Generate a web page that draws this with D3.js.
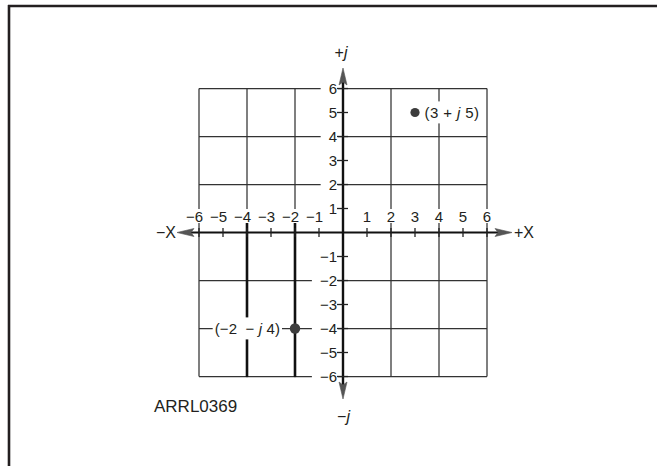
<!DOCTYPE html>
<html><head><meta charset="utf-8">
<script src="https://cdn.jsdelivr.net/npm/d3@7"></script>
<style>
body{margin:0;background:#fff}
text{font-family:"Liberation Sans",Arial,Helvetica,sans-serif;font-size:15px;fill:#231f20}
</style>
</head><body>
<svg id="c" width="657" height="466"></svg>
<script>
// ---- data ----
const realTicks = [-6,-5,-4,-3,-2,-1,1,2,3,4,5,6];
const imagTicks = [-6,-5,-4,-3,-2,-1,1,2,3,4,5,6];
const gridValues = [-6,-4,-2,2,4,6];
const boldReal = [-4,-2];
const pointRe = [3,-2];
const pointIm = [5,-4];
const pointPre = ["(3 + ", "(−2  − "];
const pointPost = [" 5)", " 4)"];
const realAxisLabels = ["−X","+X"];
const imagAxisLabels = ["+","−"];
const figureId = "ARRL0369";

// ---- setup ----
const svg = d3.select("#c");
svg.append("rect").attr("width",657).attr("height",466).attr("fill","#fff");
const x = d3.scaleLinear().domain([-6,6]).range([199,487]);
const y = d3.scaleLinear().domain([-6,6]).range([376.5,88.5]);
const fmt = d3.format("d");
const ink = "#231f20";

// frame (top and left edges)
svg.append("line").attr("x1",8).attr("x2",657).attr("y1",6).attr("y2",6).attr("stroke",ink).attr("stroke-width",2.6);
svg.append("line").attr("x1",9).attr("x2",9).attr("y1",5).attr("y2",466).attr("stroke",ink).attr("stroke-width",2.6);

const gGrid = svg.append("g");
const gBg = svg.append("g");
const gText = svg.append("g");
const gAxes = svg.append("g");

// grid
gGrid.selectAll("line.h").data(gridValues).join("line")
  .attr("x1",x(-6)).attr("x2",x(6)).attr("y1",d=>y(d)).attr("y2",d=>y(d))
  .attr("stroke","#333").attr("stroke-width",1.25);
gGrid.selectAll("line.v").data(gridValues).join("line")
  .attr("x1",d=>x(d)).attr("x2",d=>x(d))
  .attr("y1",y(6)).attr("y2",d=>boldReal.includes(d)?y(0):y(-6))
  .attr("stroke","#333").attr("stroke-width",1.25);
gGrid.selectAll("line.b").data(boldReal).join("line")
  .attr("x1",d=>x(d)).attr("x2",d=>x(d))
  .attr("y1",y(0)-10).attr("y2",y(-6)+0.6)
  .attr("stroke","#111").attr("stroke-width",2.6);

function bg(textSel, padL, padR, padT, padB){
  textSel.each(function(){
    const b = this.getBBox();
    gBg.append("rect").attr("x",b.x-padL).attr("y",b.y-padT)
      .attr("width",b.width+padL+padR).attr("height",b.height+padT+padB).attr("fill","#fff");
  });
}

// minus width for centering digits
const tmp = gText.append("text").text("−");
const minusW = tmp.node().getComputedTextLength();
tmp.remove();

// real tick labels (above axis)
const xl = gText.selectAll("text.xl").data(realTicks).join("text")
  .attr("x",d=>x(d) - (d<0?minusW/2:0)).attr("y",y(0)-11)
  .attr("text-anchor","middle").text(d=>fmt(d));
bg(xl,1,1,-1.5,-1.5);

// imag tick labels (left of axis)
const yl = gText.selectAll("text.yl").data(imagTicks).join("text")
  .attr("x",x(0)-6).attr("y",d=>y(d)).attr("dy","0.36em")
  .attr("text-anchor","end").text(d=>fmt(d));
bg(yl,8,1,0,0);

// axes
gAxes.append("line").attr("x1",186).attr("x2",500).attr("y1",y(0)).attr("y2",y(0)).attr("stroke","#111").attr("stroke-width",2);
gAxes.append("line").attr("x1",x(0)).attr("x2",x(0)).attr("y1",78).attr("y2",388).attr("stroke","#111").attr("stroke-width",2.4);
gAxes.selectAll("line.xt").data(realTicks).join("line")
  .attr("x1",d=>x(d)).attr("x2",d=>x(d)).attr("y1",y(0)-4.5).attr("y2",y(0)+4.5)
  .attr("stroke","#222").attr("stroke-width",1.3);
gAxes.selectAll("line.yt").data(imagTicks).join("line")
  .attr("x1",x(0)-6).attr("x2",x(0)+5).attr("y1",d=>y(d)).attr("y2",d=>y(d))
  .attr("stroke","#222").attr("stroke-width",1.3);

// arrowheads
const ax0 = y(0), ay0 = x(0);
const arrows = [
  `M177,${ax0} L194,${ax0-4} L191,${ax0} L194,${ax0+4} Z`,
  `M512,${ax0} L495,${ax0-4} L498,${ax0} L495,${ax0+4} Z`,
  `M${ay0},68 L${ay0-4},85 L${ay0},82 L${ay0+4},85 Z`,
  `M${ay0},399 L${ay0-4},382 L${ay0},385 L${ay0+4},382 Z`
];
gAxes.selectAll("path.ar").data(arrows).join("path").attr("d",d=>d).attr("fill","#555").attr("stroke","#555").attr("stroke-width",0.6);

// axis labels
gAxes.append("text").attr("x",176).attr("y",y(0)).attr("dy","0.36em").attr("text-anchor","end").style("font-size","16px").text(realAxisLabels[0]);
gAxes.append("text").attr("x",514).attr("y",y(0)).attr("dy","0.36em").attr("text-anchor","start").style("font-size","16px").text(realAxisLabels[1]);
const tj = gAxes.append("text").attr("x",x(0)-2).attr("y",58).attr("text-anchor","middle").style("font-size","16px");
tj.append("tspan").text(imagAxisLabels[0]);
tj.append("tspan").attr("font-style","italic").text("j");
const bj = gAxes.append("text").attr("x",x(0)+0.5).attr("y",422).attr("text-anchor","middle").style("font-size","16px");
bj.append("tspan").text(imagAxisLabels[1]);
bj.append("tspan").attr("font-style","italic").text("j");

// figure id
gAxes.append("text").attr("x",154).attr("y",412).style("font-size","17px").text(figureId);

// points and labels
const pts = d3.range(pointRe.length);
const pl = gText.selectAll("text.pl").data(pts).join("text")
  .attr("x",i=> pointRe[i]>0 ? x(pointRe[i])+9.5 : x(pointRe[i])-15)
  .attr("y",i=>y(pointIm[i])).attr("dy","0.36em")
  .attr("text-anchor",i=> pointRe[i]>0 ? "start":"end")
  .attr("letter-spacing",i=> pointRe[i]>0 ? "0.4px" : "0.1px")
  .attr("xml:space","preserve")
  .style("white-space","pre");
pl.append("tspan").text(i=>pointPre[i]);
pl.append("tspan").attr("font-style","italic").text("j");
pl.append("tspan").text(i=>pointPost[i]);
bg(pl,2,2,2.5,2.5);

gAxes.selectAll("circle.pt").data(pts).join("circle")
  .attr("cx",i=>x(pointRe[i])).attr("cy",i=>y(pointIm[i]))
  .attr("r",i=>pointRe[i]>0?4.6:5.2).attr("fill","#3c3c3c");
</script>
</body></html>
